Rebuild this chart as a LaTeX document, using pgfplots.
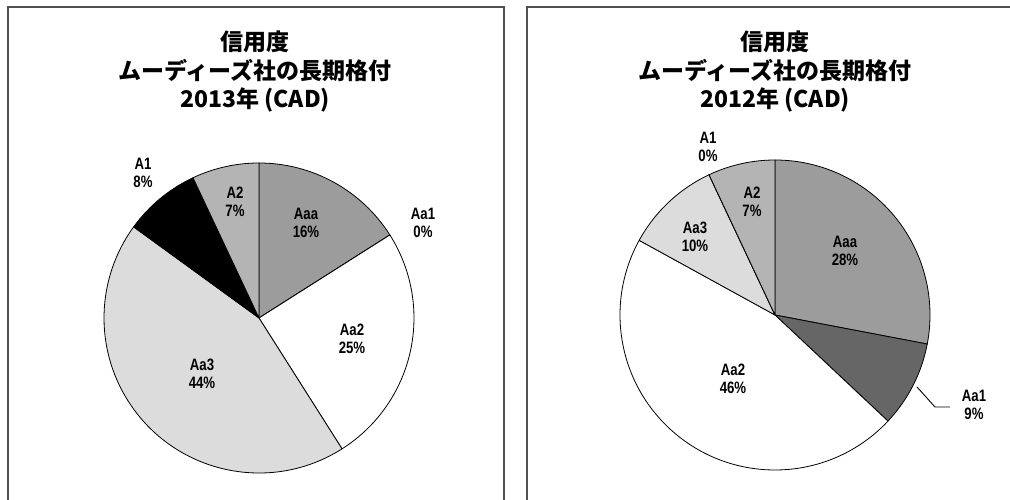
\documentclass[border=0pt]{standalone}
\usepackage{pgfplots}
\pgfplotsset{compat=1.18}
\usepackage{pgfplotstable}
\usepackage{fontspec}
\setmainfont{Liberation Sans}
\newfontfamily\cjk{Noto Sans CJK JP}
\newfontfamily\lab[FakeStretch=0.8]{Liberation Sans}
\definecolor{cAaa}{HTML}{9C9C9C}
\definecolor{cAaone}{HTML}{666666}
\definecolor{cAatwo}{HTML}{FFFFFF}
\definecolor{cAathree}{HTML}{DCDCDC}
\definecolor{cAone}{HTML}{000000}
\definecolor{cAtwo}{HTML}{B4B4B4}
\definecolor{frame}{HTML}{505050}

% 2013 (CAD)
\pgfplotstableread{
rating pct color
Aaa 16 cAaa
Aa1 0 cAaone
Aa2 25 cAatwo
Aa3 44 cAathree
A1 8 cAone
A2 7 cAtwo
}\dataA
% 2012 (CAD)
\pgfplotstableread{
rating pct color
Aaa 28 cAaa
Aa1 9 cAaone
Aa2 46 cAatwo
Aa3 10 cAathree
A1 0 cAone
A2 7 cAtwo
}\dataB

\newcommand\drawpie[1]{%
  \def\cum{0}%
  \pgfplotsforeachungrouped \i in {0,...,5}{%
    \pgfplotstablegetelem{\i}{pct}\of#1%
    \let\v\pgfplotsretval
    \pgfplotstablegetelem{\i}{color}\of#1%
    \let\col\pgfplotsretval
    \pgfmathsetmacro\sa{90-3.6*\cum}%
    \pgfmathsetmacro\ea{90-3.6*(\cum+\v)}%
    \pgfmathsetmacro\cum{\cum+\v}%
    \pgfmathsetmacro\sx{155*cos(\sa)}%
    \pgfmathsetmacro\sy{155*sin(\sa)}%
    \edef\cmd{\noexpand\filldraw[fill=\col, draw=black, line width=0.8pt, line join=round]
      (axis cs:0,0) -- (axis cs:\sx,\sy) arc[start angle=\sa, end angle=\ea, radius=155] -- cycle;}%
    \cmd
  }%
}

\pgfplotsset{piebox/.style={
  hide axis, scale only axis, width=310pt, height=310pt,
  xmin=-155, xmax=155, ymin=-155, ymax=155, clip=false, anchor=center}}

\begin{document}
\begin{tikzpicture}[x=1pt,y=1pt]
\useasboundingbox (0,0) rectangle (1010,500);
% panel frames
\draw[frame, line width=2pt] (7.5,-5) -- (7.5,493) -- (504,493) -- (504,-5);
\draw[frame, line width=2pt] (526.5,-5) -- (526.5,493) -- (1015,493);

% titles
\begin{scope}[every node/.style={font=\cjk\bfseries\fontsize{23}{23}\selectfont, inner sep=0pt}]
\node at (255,458) {信用度};
\node at (255,429) {ムーディーズ社の長期格付};
\node at (255,400) {2013年 (CAD)};
\node at (775,458) {信用度};
\node at (775,429) {ムーディーズ社の長期格付};
\node at (775,400) {2012年 (CAD)};
\end{scope}

\begin{axis}[piebox, at={(259,182)}]
\drawpie{\dataA}
\begin{scope}[every node/.style={align=center, inner sep=0pt, font=\lab\bfseries\fontsize{16.5}{18}\selectfont}]
\node at (axis cs:-116,145) {A1\\8\%};
\node at (axis cs:-24,116) {A2\\7\%};
\node at (axis cs:47,95) {Aaa\\16\%};
\node at (axis cs:164,95) {Aa1\\0\%};
\node at (axis cs:93,-21) {Aa2\\25\%};
\node at (axis cs:-57,-56) {Aa3\\44\%};
\end{scope}
\end{axis}

\begin{axis}[piebox, at={(775,185)}]
\drawpie{\dataB}
\draw[line width=0.9pt] (axis cs:142,-72) -- (axis cs:160,-92) -- (axis cs:175,-92);
\begin{scope}[every node/.style={align=center, inner sep=0pt, font=\lab\bfseries\fontsize{16.5}{18}\selectfont}]
\node at (axis cs:-67,168) {A1\\0\%};
\node at (axis cs:-23,113) {A2\\7\%};
\node at (axis cs:70,64) {Aaa\\28\%};
\node at (axis cs:-80,78) {Aa3\\10\%};
\node at (axis cs:-42,-64) {Aa2\\46\%};
\node at (axis cs:199,-90) {Aa1\\9\%};
\end{scope}
\end{axis}
\end{tikzpicture}
\end{document}
